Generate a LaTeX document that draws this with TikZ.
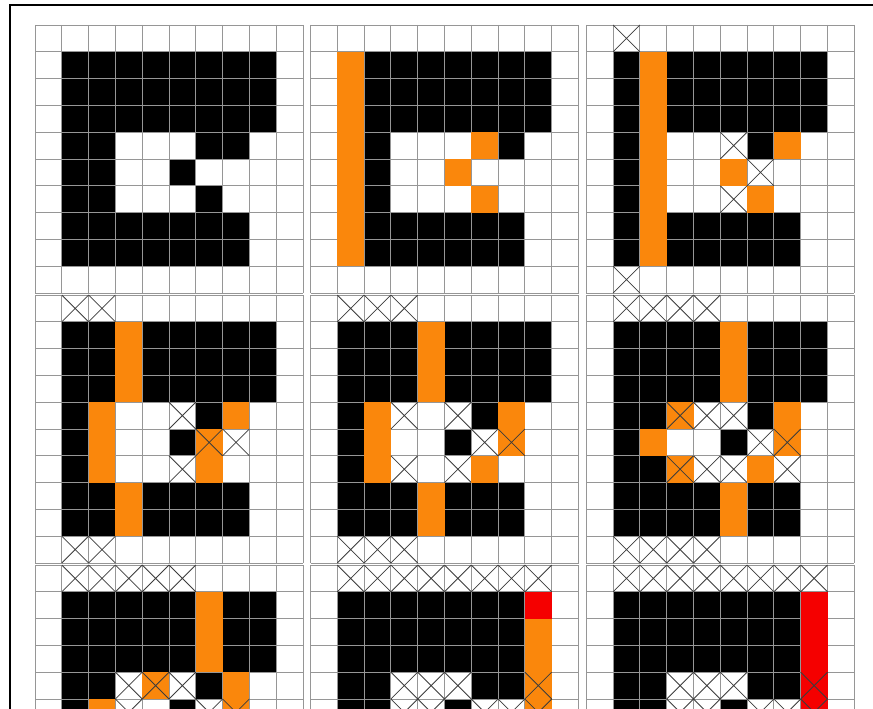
\documentclass[tikz,border=0pt]{standalone}
\usepackage{tikz}
\definecolor{cellorange}{RGB}{250,135,12}
\definecolor{cellred}{RGB}{245,0,0}
\definecolor{gridgray}{RGB}{150,150,150}
\definecolor{xgray}{RGB}{60,60,60}
\tikzset{
  cellblack/.style={fill=black},
  cellor/.style={fill=cellorange},
  cellrd/.style={fill=cellred},
  gridline/.style={draw=gridgray, line width=0.9pt},
  xline/.style={draw=xgray, line width=0.8pt},
  framebox/.style={draw=black, line width=2pt}
}
\newcount\colidx
\newcount\rowidx
\newcount\passno
\def\cs{26.8}
\def\xmark{\draw[xline] (\cx,\cy) -- ++(\cs,\cs) (\cx+\cs,\cy) -- ++(-\cs,\cs);}
\def\drawcell#1{%
  \pgfmathsetmacro\cx{\panelx+\the\colidx*\cs}%
  \pgfmathsetmacro\cy{\panely+\the\rowidx*\cs}%
  \ifnum\passno=1
    \if B#1\fill[cellblack] (\cx,\cy) rectangle ++(\cs,\cs);\fi
  \else
    \if O#1\fill[cellor] (\cx,\cy) rectangle ++(\cs,\cs);\fi
    \if Q#1\fill[cellor] (\cx,\cy) rectangle ++(\cs,\cs);\xmark\fi
    \if R#1\fill[cellrd] (\cx,\cy) rectangle ++(\cs,\cs);\fi
    \if S#1\fill[cellrd] (\cx,\cy) rectangle ++(\cs,\cs);\xmark\fi
    \if X#1\xmark\fi
  \fi}
\def\parsecells#1{\ifx#1\relax\else\drawcell#1\advance\colidx by 1 \expandafter\parsecells\fi}
\def\gridlines{%
  \foreach \k in {0,...,10}{%
    \draw[gridline] (\panelx+\k*\cs,\panely) -- ++(0,10*\cs);
    \draw[gridline] (\panelx,\panely+\k*\cs) -- ++(10*\cs,0);
  }}
\def\panel#1#2#3{%
  \def\panelx{#1}\def\panely{#2}%
  \foreach \pass in {1,2}{%
    \global\passno=\pass\relax
    \foreach \r [count=\ri from 0] in {#3}{%
      \global\rowidx=\ri\relax
      \global\colidx=0
      \expandafter\parsecells\r\relax}%
    \ifnum\pass=1 \gridlines\fi}}
\begin{document}
\begin{tikzpicture}[x=1pt,y=-1pt]
\useasboundingbox (0,0) rectangle (873,709);
\clip (0,0) rectangle (873,709);
\fill[white] (0,0) rectangle (873,709);
% panel 1
\panel{35}{25}{----------,-BBBBBBBB-,-BBBBBBBB-,-BBBBBBBB-,-BB---BB--,-BB--B----,-BB---B---,-BBBBBBB--,-BBBBBBB--,----------}
% panel 2
\panel{310.5}{25}{----------,-OBBBBBBB-,-OBBBBBBB-,-OBBBBBBB-,-OB---OB--,-OB--O----,-OB---O---,-OBBBBBB--,-OBBBBBB--,----------}
% panel 3
\panel{586.3}{25}{-X--------,-BOBBBBBB-,-BOBBBBBB-,-BOBBBBBB-,-BO--XBO--,-BO--OX---,-BO--XO---,-BOBBBBB--,-BOBBBBB--,-X--------}
% panel 4
\panel{35}{295}{-XX-------,-BBOBBBBB-,-BBOBBBBB-,-BBOBBBBB-,-BO--XBO--,-BO--BQX--,-BO--XO---,-BBOBBBB--,-BBOBBBB--,-XX-------}
% panel 5
\panel{310.5}{295}{-XXX------,-BBBOBBBB-,-BBBOBBBB-,-BBBOBBBB-,-BOX-XBO--,-BO--BXQ--,-BOX-XO---,-BBBOBBB--,-BBBOBBB--,-XXX------}
% panel 6
\panel{586.3}{295}{-XXXX-----,-BBBBOBBB-,-BBBBOBBB-,-BBBBOBBB-,-BBQXXBO--,-BO--BXQ--,-BBQXXOX--,-BBBBOBB--,-BBBBOBB--,-XXXX-----}
% panel 7
\panel{35}{565}{-XXXXX----,-BBBBBOBB-,-BBBBBOBB-,-BBBBBOBB-,-BBXQXBO--,-BOX-BXQ--,----------,----------,----------,----------}
% panel 8
\panel{310.5}{565}{-XXXXXXXX-,-BBBBBBBR-,-BBBBBBBO-,-BBBBBBBO-,-BBXXXBBQ-,-BBXXBXXQ-,----------,----------,----------,----------}
% panel 9
\panel{586.3}{565}{-XXXXXXXX-,-BBBBBBBR-,-BBBBBBBR-,-BBBBBBBR-,-BBXXXBBS-,-BBXXBXXS-,----------,----------,----------,----------}
% outer frame (right and bottom sides lie outside the picture)
\draw[framebox] (10,5) rectangle (900,760);
\end{tikzpicture}
\end{document}
